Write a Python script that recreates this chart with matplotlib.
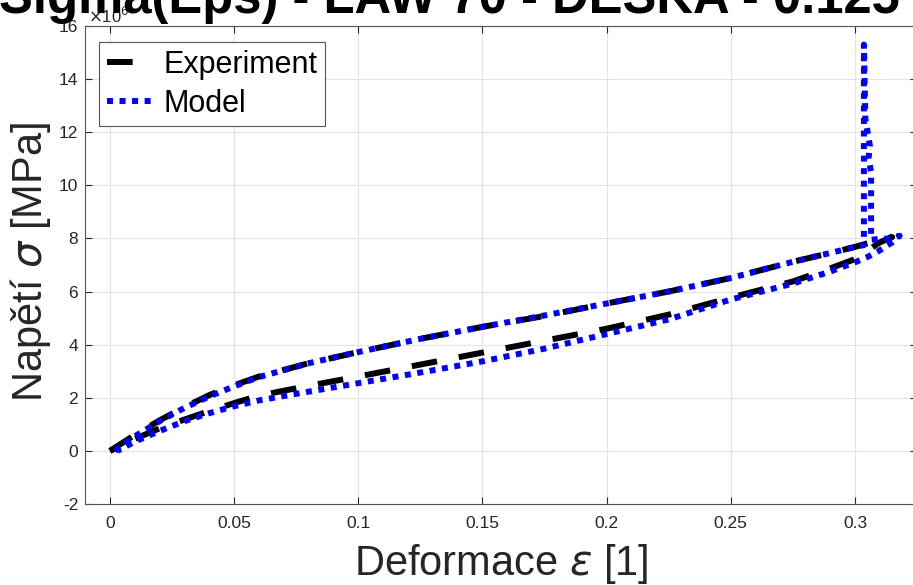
import matplotlib
matplotlib.use("Agg")
import matplotlib.pyplot as plt

# strain [1] and stress [x1e6]
exp_eps = [0, 0.005, 0.01, 0.02, 0.03, 0.04, 0.05, 0.06, 0.08, 0.1, 0.125, 0.15, 0.175,
           0.2, 0.225, 0.25, 0.275, 0.29, 0.3, 0.31, 0.315,
           0.31, 0.3, 0.29, 0.275, 0.25, 0.225, 0.2, 0.175, 0.15, 0.125, 0.1, 0.08,
           0.06, 0.05, 0.04, 0.03, 0.02, 0.01, 0.005, 0]
exp_sig = [0, 0.3, 0.6, 1.15, 1.65, 2.1, 2.47, 2.8, 3.3, 3.72, 4.22, 4.67, 5.08,
           5.55, 6.0, 6.51, 7.12, 7.45, 7.68, 7.95, 8.05,
           7.85, 7.22, 6.87, 6.38, 5.77, 5.13, 4.6, 4.15, 3.7, 3.25, 2.8, 2.45,
           2.08, 1.8, 1.5, 1.18, 0.85, 0.45, 0.22, 0]

model_eps = [0.002, 0.01, 0.02, 0.03, 0.04, 0.05, 0.06, 0.08, 0.1, 0.125, 0.15, 0.175,
             0.2, 0.225, 0.25, 0.275, 0.29, 0.3, 0.3036, 0.3036, 0.3042, 0.306, 0.3055,
             0.3065, 0.3065, 0.31, 0.314, 0.318,
             0.315, 0.31, 0.305, 0.3, 0.29, 0.275, 0.25, 0.225, 0.2, 0.175, 0.15, 0.125,
             0.1, 0.08, 0.06, 0.05, 0.04, 0.03, 0.02, 0.01, 0.003]
model_sig = [0, 0.55, 1.12, 1.62, 2.05, 2.43, 2.78, 3.3, 3.72, 4.22, 4.67, 5.1,
             5.55, 6.0, 6.51, 7.12, 7.45, 7.68, 7.75, 15.3, 12.5, 11.5, 11.0,
             10.5, 7.95, 7.98, 8.0, 8.1,
             7.85, 7.55, 7.3, 7.1, 6.75, 6.3, 5.7, 4.95, 4.4, 3.85, 3.37, 2.95,
             2.55, 2.23, 1.9, 1.68, 1.42, 1.12, 0.75, 0.35, 0.0]

x_ticks = [0, 0.05, 0.1, 0.15, 0.2, 0.25, 0.3]
x_tick_labels = ["0", "0.05", "0.1", "0.15", "0.2", "0.25", "0.3"]
y_ticks = [-2, 0, 2, 4, 6, 8, 10, 12, 14, 16]
y_tick_labels = ["-2", "0", "2", "4", "6", "8", "10", "12", "14", "16"]

plt.rcParams['font.family'] = ['Liberation Sans', 'DejaVu Sans']
axis_col = '#262626'

fig = plt.figure(figsize=(9.13, 5.85), dpi=100)
ax = fig.add_axes([0.0933, 0.1385, 0.9111, 0.8171])

ax.plot(exp_eps, exp_sig, color='black', linewidth=4.3, dashes=(4.3, 3.7),
        dash_capstyle='butt', label='Experiment')
ax.plot(model_eps, model_sig, color='#0000ff', linewidth=4.3, dashes=(1.0, 1.1),
        dash_capstyle='butt', label='Model')

ax.set_xlim(-0.01, 0.325)
ax.set_ylim(-2, 16)
ax.set_xticks(x_ticks)
ax.set_xticklabels(x_tick_labels)
ax.set_yticks(y_ticks)
ax.set_yticklabels(y_tick_labels)
ax.tick_params(direction='in', length=5, width=0.8, colors=axis_col,
               labelsize=12.5, top=True, right=True)
ax.tick_params(axis='x', pad=9)
ax.tick_params(axis='y', pad=5)
for s in ax.spines.values():
    s.set_color('#555555')
    s.set_linewidth(0.8)
ax.grid(True, color='#e3e3e3', linewidth=0.8)
ax.set_axisbelow(True)

ax.set_xlabel(r'Deformace $\epsilon$ [1]', fontsize=30, color=axis_col)
ax.xaxis.set_label_coords(0.5, -0.08)
ax.set_ylabel(r'Napětí $\sigma$ [MPa]', fontsize=30, color=axis_col)
ax.yaxis.set_label_coords(-0.039, 0.506)

leg = ax.legend(loc='upper left', bbox_to_anchor=(99 / 913, 1 - 42 / 585),
                bbox_transform=fig.transFigure, borderaxespad=0, fontsize=22,
                fancybox=False, framealpha=1, edgecolor='#555555',
                handlelength=1.5, handletextpad=0.35, labelspacing=0.3,
                borderpad=0.25)
leg.get_frame().set_linewidth(0.8)

fig.text(88 / 913, 1 - 23 / 585, r'$\times$10$^{6}$', fontsize=12, color=axis_col)
fig.text(900 / 913, 1 - 13 / 585, 'Sigma(Eps) - LAW 70 - DESKA - 0.125',
         fontsize=36.5, fontweight='bold', ha='right', va='baseline')

fig.savefig('out.png', dpi=100)
